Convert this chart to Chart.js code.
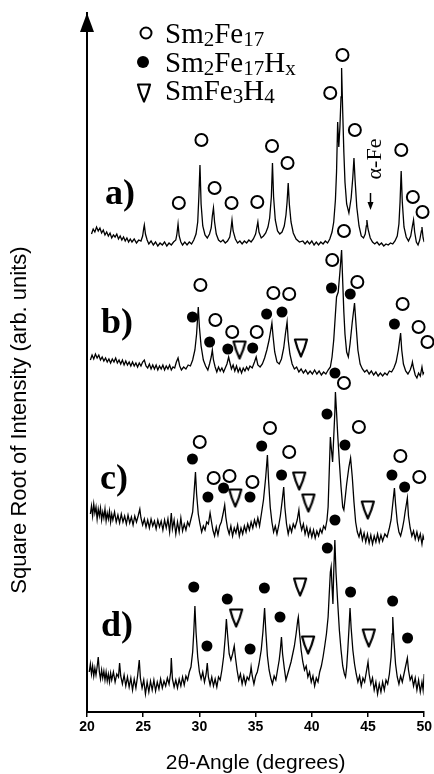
<!DOCTYPE html>
<html>
<head>
<meta charset="utf-8">
<script src="https://cdn.jsdelivr.net/npm/chart.js@4.4.1/dist/chart.umd.min.js"></script>
<style>
  html, body { margin: 0; padding: 0; background: #fff; }
  canvas { display: block; }
</style>
</head>
<body>
<canvas id="xrd" width="434" height="774"></canvas>
<script>
// tick labels on the 2-theta axis
var angleTicks = [20, 25, 30, 35, 40, 45, 50];

// traces as [2theta, sqrt intensity] pairs, each one offset upward
var patternA = [
  [20.4,478],[20.55,483],[20.7,480],[20.85,485],[21.0,481],[21.15,484],[21.3,479],[21.45,482],[21.6,477],[21.75,480],
  [21.9,476],[22.05,479],[22.2,474],[22.35,477],[22.5,475],[22.65,478],[22.8,473],[22.95,476],[23.1,472],[23.25,475],
  [23.4,471],[23.55,474],[23.7,470],[23.85,473],[24.0,470],[24.2,473],[24.4,469],[24.6,472],[24.8,471],[24.95,476],
  [25.05,484],[25.1,487],[25.2,478],[25.35,472],[25.5,468],[25.7,471],[25.9,467],[26.1,470],[26.3,466],[26.5,469],
  [26.7,467],[26.9,470],[27.1,466],[27.3,469],[27.5,467],[27.7,470],[27.9,472],[28.0,478],[28.1,488],[28.2,476],
  [28.35,470],[28.5,467],[28.7,470],[28.9,467],[29.1,470],[29.3,468],[29.5,472],[29.7,478],[29.85,490],[29.95,515],
  [30.05,547],[30.15,508],[30.3,486],[30.5,477],[30.7,474],[30.9,478],[31.05,484],[31.15,496],[31.25,504],[31.35,490],
  [31.5,478],[31.7,472],[31.9,470],[32.1,472],[32.3,469],[32.5,471],[32.7,475],[32.8,482],[32.9,492],[33.0,481],
  [33.2,473],[33.4,469],[33.6,471],[33.8,468],[34.0,471],[34.2,469],[34.4,472],[34.6,470],[34.8,473],[35.0,478],
  [35.1,484],[35.2,490],[35.3,480],[35.5,474],[35.7,476],[35.9,479],[36.1,485],[36.25,494],[36.4,515],[36.5,549],
  [36.6,515],[36.75,492],[36.95,481],[37.15,478],[37.35,480],[37.55,486],[37.7,497],[37.8,510],[37.9,529],[38.0,508],
  [38.15,490],[38.35,479],[38.6,473],[38.9,470],[39.2,471],[39.4,468],[39.6,471],[39.8,468],[40.0,471],[40.2,467],
  [40.4,470],[40.6,467],[40.8,470],[41.0,468],[41.2,471],[41.4,469],[41.6,473],[41.8,480],[41.95,490],[42.1,512],
  [42.2,540],[42.3,590],[42.4,565],[42.5,585],[42.6,615],[42.65,644],[42.75,600],[42.85,560],[42.95,530],[43.1,508],
  [43.3,499],[43.5,514],[43.65,535],[43.75,554],[43.85,532],[44.0,505],[44.2,486],[44.4,476],[44.6,474],[44.75,478],
  [44.85,486],[44.9,492],[45.0,483],[45.2,474],[45.4,470],[45.6,468],[45.8,470],[46.0,467],[46.2,469],[46.4,466],
  [46.6,468],[46.8,467],[47.0,469],[47.2,468],[47.4,471],[47.6,476],[47.75,488],[47.85,510],[47.95,541],[48.05,510],
  [48.2,485],[48.4,475],[48.6,471],[48.8,476],[48.95,486],[49.05,492],[49.15,480],[49.3,470],[49.45,467],[49.6,472],
  [49.75,481],[49.8,485],[49.9,474],[50.0,470]
];

var patternB = [
  [20.3,352],[20.45,357],[20.6,353],[20.75,358],[20.9,354],[21.05,357],[21.2,352],[21.35,355],[21.5,351],[21.65,354],
  [21.8,350],[21.95,353],[22.1,349],[22.25,353],[22.4,350],[22.55,354],[22.7,349],[22.85,352],[23.0,348],[23.15,352],
  [23.3,347],[23.45,351],[23.6,347],[23.75,350],[23.9,346],[24.05,350],[24.2,346],[24.35,349],[24.5,345],[24.65,349],
  [24.8,346],[24.95,350],[25.1,352],[25.25,346],[25.4,344],[25.55,348],[25.7,343],[25.85,347],[26.0,343],[26.15,347],
  [26.3,342],[26.45,346],[26.6,343],[26.75,347],[26.9,342],[27.05,346],[27.2,343],[27.35,347],[27.5,342],[27.65,345],
  [27.8,344],[27.95,350],[28.1,354],[28.25,346],[28.4,342],[28.6,345],[28.8,343],[29.0,347],[29.2,346],[29.4,352],
  [29.6,362],[29.75,378],[29.9,405],[30.0,385],[30.15,366],[30.35,352],[30.55,346],[30.75,342],[30.9,348],[31.05,355],
  [31.15,362],[31.25,352],[31.4,345],[31.55,340],[31.7,345],[31.85,341],[32.0,344],[32.15,340],[32.3,344],[32.45,348],
  [32.6,355],[32.7,350],[32.85,343],[33.0,347],[33.15,341],[33.3,346],[33.45,340],[33.6,344],[33.75,339],[33.9,344],
  [34.05,341],[34.2,345],[34.35,342],[34.5,346],[34.7,344],[34.9,350],[35.05,355],[35.2,347],[35.4,345],[35.6,348],
  [35.8,354],[36.0,362],[36.2,372],[36.35,382],[36.45,389],[36.55,376],[36.7,360],[36.9,350],[37.1,348],[37.3,353],
  [37.5,364],[37.65,378],[37.8,390],[37.9,372],[38.05,358],[38.25,348],[38.45,343],[38.65,345],[38.85,340],[39.05,343],
  [39.25,339],[39.45,342],[39.65,338],[39.85,341],[40.05,338],[40.25,342],[40.45,338],[40.65,341],[40.85,337],[41.05,340],
  [41.25,338],[41.45,342],[41.65,345],[41.8,355],[41.95,372],[42.1,398],[42.2,415],[42.35,420],[42.5,440],[42.65,462],
  [42.75,430],[42.85,400],[42.95,378],[43.1,360],[43.25,355],[43.4,368],[43.6,390],[43.8,409],[43.95,385],[44.1,362],
  [44.3,348],[44.5,343],[44.7,340],[44.9,342],[45.1,338],[45.3,341],[45.5,337],[45.7,340],[45.9,336],[46.1,339],
  [46.3,336],[46.5,339],[46.7,337],[46.9,341],[47.1,340],[47.3,344],[47.5,350],[47.7,362],[47.9,379],[48.0,362],
  [48.15,348],[48.35,341],[48.55,338],[48.75,342],[48.9,347],[48.95,350],[49.05,344],[49.2,337],[49.35,334],[49.5,339],
  [49.65,336],[49.8,345],[49.9,338],[50.0,340]
];

var patternC = [
  [20.3,198],[20.4,206],[20.5,196],[20.6,208],[20.7,199],[20.8,205],[20.9,193],[21.0,203],[21.1,196],[21.2,204],
  [21.3,192],[21.4,200],[21.5,194],[21.6,203],[21.7,191],[21.8,199],[21.9,193],[22.0,201],[22.1,190],[22.2,198],
  [22.3,192],[22.45,200],[22.6,190],[22.75,197],[22.9,189],[23.05,198],[23.2,190],[23.35,196],[23.5,188],[23.65,197],
  [23.8,189],[23.95,195],[24.1,187],[24.25,196],[24.4,190],[24.55,196],[24.7,203],[24.8,194],[24.95,187],[25.1,193],
  [25.25,185],[25.4,192],[25.55,184],[25.7,193],[25.85,186],[26.0,191],[26.15,183],[26.3,192],[26.45,185],[26.6,191],
  [26.75,182],[26.9,192],[27.05,184],[27.2,193],[27.35,180],[27.5,199],[27.6,183],[27.75,192],[27.9,178],[28.05,190],
  [28.2,180],[28.35,194],[28.5,181],[28.65,188],[28.8,182],[28.95,190],[29.1,186],[29.25,193],[29.4,200],[29.5,215],
  [29.65,240],[29.75,218],[29.9,198],[30.05,188],[30.2,180],[30.35,186],[30.5,182],[30.65,190],[30.8,188],[30.95,199],
  [31.05,192],[31.2,182],[31.35,176],[31.5,185],[31.65,177],[31.8,186],[31.95,190],[32.1,198],[32.25,207],[32.35,195],
  [32.5,184],[32.65,178],[32.8,186],[32.95,176],[33.1,184],[33.25,179],[33.4,187],[33.55,176],[33.7,184],[33.85,178],
  [34.0,186],[34.15,180],[34.3,188],[34.45,182],[34.6,190],[34.75,184],[34.9,192],[35.05,186],[35.2,194],[35.35,186],
  [35.5,197],[35.7,212],[35.9,235],[36.05,257],[36.15,232],[36.3,205],[36.45,190],[36.6,180],[36.75,186],[36.9,178],
  [37.05,186],[37.2,196],[37.35,210],[37.5,225],[37.6,205],[37.75,188],[37.9,178],[38.05,186],[38.2,180],[38.35,188],
  [38.5,184],[38.7,192],[38.85,202],[38.95,190],[39.1,182],[39.25,188],[39.4,178],[39.55,185],[39.7,176],[39.85,183],
  [40.0,175],[40.15,182],[40.3,174],[40.45,181],[40.6,176],[40.75,183],[40.9,179],[41.05,186],[41.2,183],[41.35,192],
  [41.45,205],[41.55,240],[41.65,275],[41.75,262],[41.85,250],[41.95,275],[42.05,300],[42.1,320],[42.2,300],[42.3,278],
  [42.45,250],[42.6,225],[42.75,205],[42.85,202],[42.95,212],[43.1,228],[43.3,245],[43.45,254],[43.6,235],[43.75,210],
  [43.9,190],[44.05,180],[44.2,175],[44.35,182],[44.5,172],[44.65,179],[44.8,170],[44.95,178],[45.1,169],[45.25,177],
  [45.4,168],[45.55,176],[45.7,170],[45.85,178],[46.0,170],[46.15,177],[46.3,171],[46.5,178],[46.7,175],[46.9,184],
  [47.05,192],[47.2,208],[47.35,224],[47.45,208],[47.6,190],[47.75,180],[47.9,176],[48.05,183],[48.2,192],[48.3,200],
  [48.4,207],[48.5,214],[48.6,196],[48.75,184],[48.9,176],[49.05,181],[49.2,173],[49.35,180],[49.5,172],[49.65,178],
  [49.8,168],[49.9,176],[50.0,172]
];

var patternD = [
  [20.2,40],[20.3,48],[20.4,38],[20.5,46],[20.6,36],[20.7,44],[20.8,37],[20.9,45],[21.0,55],[21.1,40],
  [21.2,33],[21.3,42],[21.4,34],[21.5,41],[21.6,32],[21.7,40],[21.8,31],[21.9,38],[22.0,30],[22.1,39],
  [22.2,32],[22.35,40],[22.5,30],[22.65,38],[22.8,35],[22.9,49],[23.0,36],[23.15,28],[23.3,37],[23.45,26],
  [23.6,35],[23.75,25],[23.9,34],[24.05,22],[24.2,33],[24.35,24],[24.5,36],[24.65,52],[24.75,34],[24.9,24],
  [25.05,32],[25.2,18],[25.35,30],[25.5,20],[25.65,31],[25.8,22],[25.95,32],[26.1,21],[26.25,30],[26.4,23],
  [26.55,33],[26.7,24],[26.85,31],[27.0,26],[27.15,34],[27.3,28],[27.45,40],[27.5,54],[27.6,33],[27.75,25],
  [27.9,32],[28.05,24],[28.2,33],[28.35,26],[28.5,35],[28.65,27],[28.8,36],[28.95,32],[29.1,40],[29.25,45],
  [29.4,60],[29.5,80],[29.6,106],[29.7,80],[29.85,55],[30.0,40],[30.15,33],[30.3,40],[30.45,30],[30.6,38],
  [30.7,49],[30.8,35],[30.95,27],[31.1,35],[31.25,26],[31.4,33],[31.55,25],[31.7,35],[31.85,32],[32.0,42],
  [32.15,55],[32.3,75],[32.4,93],[32.5,78],[32.65,58],[32.8,52],[32.95,58],[33.1,66],[33.2,55],[33.35,42],
  [33.5,32],[33.65,38],[33.8,28],[33.95,36],[34.1,28],[34.25,35],[34.4,32],[34.55,40],[34.6,45],[34.7,36],
  [34.85,28],[35.0,36],[35.15,40],[35.3,48],[35.5,62],[35.65,80],[35.8,104],[35.9,82],[36.05,56],[36.2,42],
  [36.35,34],[36.5,28],[36.65,36],[36.8,32],[36.95,42],[37.1,52],[37.2,62],[37.3,75],[37.4,58],[37.55,44],
  [37.7,32],[37.85,38],[38.0,44],[38.15,50],[38.3,58],[38.45,66],[38.6,78],[38.75,92],[38.8,95],[38.9,80],
  [39.05,62],[39.2,50],[39.35,42],[39.5,46],[39.65,35],[39.8,40],[39.95,30],[40.1,36],[40.25,26],[40.4,34],
  [40.55,30],[40.7,40],[40.85,46],[41.0,55],[41.15,66],[41.3,78],[41.45,95],[41.55,118],[41.65,140],[41.72,145],
  [41.8,125],[41.88,108],[41.95,140],[42.05,172],[42.15,140],[42.3,110],[42.45,82],[42.6,62],[42.75,46],[42.9,38],
  [43.0,35],[43.1,45],[43.2,62],[43.3,82],[43.4,104],[43.5,84],[43.65,62],[43.8,48],[43.95,38],[44.1,30],
  [44.25,36],[44.4,26],[44.55,34],[44.7,30],[44.85,40],[45.0,50],[45.1,38],[45.25,28],[45.4,34],[45.55,22],
  [45.7,30],[45.85,18],[46.0,28],[46.15,20],[46.3,30],[46.45,22],[46.6,32],[46.75,28],[46.9,38],[47.05,55],
  [47.15,78],[47.2,95],[47.3,72],[47.45,48],[47.6,35],[47.75,28],[47.9,36],[48.05,30],[48.2,38],[48.35,46],
  [48.5,54],[48.6,42],[48.75,32],[48.9,36],[49.05,26],[49.2,34],[49.35,22],[49.5,32],[49.65,20],[49.8,30],
  [49.9,22],[50.0,38]
];

// phase markers: open = Sm2Fe17, filled = Sm2Fe17Hx, triangle = SmFe3H4
var openCircles = [
  [28.17,509],[30.18,572],[31.35,524],[32.86,509],[35.15,510],[36.46,566],[37.84,549],[41.64,619],[42.73,657],
  [43.83,582],[47.96,562],[48.99,515],[49.85,500],
  [42.86,481],[30.09,427],[31.42,392],[32.92,380],[35.10,380],[36.58,419],[37.99,418],[41.82,452],[44.05,430],
  [48.08,408],[49.50,385],[50.29,370],
  [42.86,329],[30.03,270],[31.27,234],[32.68,236],[34.72,230],[36.28,284],[37.99,260],[44.19,285],[47.88,256],[49.56,235]
];

var filledDots = [
  [29.38,395],[30.91,370],[32.53,363],[34.74,364],[35.98,398],[37.35,400],[41.75,424],[43.42,418],[42.06,339],[47.35,388],
  [29.38,253],[30.76,215],[32.15,224],[34.50,215],[35.54,266],[37.31,237],[41.35,298],[42.95,267],[42.06,192],[47.13,237],[48.26,225],
  [29.50,125],[30.67,66],[32.48,113],[34.51,63],[35.78,124],[37.17,95],[41.38,164],[43.45,120],[47.19,111],[48.52,74]
];

var triangles = [
  [33.57,362],[39.03,364],
  [33.19,214],[38.88,231],[39.70,209],[44.98,202],
  [33.27,94],[38.96,125],[39.67,67],[45.07,74]
];

var legendRows = [
  [["Sm", 0], ["2", 1], ["Fe", 0], ["17", 1]],
  [["Sm", 0], ["2", 1], ["Fe", 0], ["17", 1], ["H", 0], ["x", 1]],
  [["Sm", 0], ["Fe", 0], ["3", 1], ["H", 0], ["4", 1]]
];
var traceLabels = ["a)", "b)", "c)", "d)"];

function toPoints(arr) {
  return arr.map(function (p) { return { x: p[0], y: p[1] }; });
}

// the open "V" triangle used for SmFe3H4
function makeTriangle() {
  var c = document.createElement("canvas");
  c.width = 16;
  c.height = 22;
  var g = c.getContext("2d");
  g.lineWidth = 2.2;
  g.lineJoin = "round";
  g.strokeStyle = "#000";
  g.fillStyle = "#fff";
  g.beginPath();
  g.moveTo(2, 2.5);
  g.lineTo(14, 2.5);
  g.quadraticCurveTo(12, 11, 8, 19.5);
  g.quadraticCurveTo(4, 11, 2, 2.5);
  g.closePath();
  g.fill();
  g.stroke();
  return c;
}
var triangleImg = makeTriangle();

function drawChem(ctx, parts, x, y) {
  parts.forEach(function (p) {
    if (p[1]) {
      ctx.font = "21px 'Liberation Serif'";
      ctx.fillText(p[0], x, y + 3);
    } else {
      ctx.font = "29px 'Liberation Serif'";
      ctx.fillText(p[0], x, y);
    }
    x += ctx.measureText(p[0]).width;
  });
}

// annotations: axis arrow, legend, trace labels, alpha-Fe, y title
var decorations = {
  id: "decorations",
  afterDraw: function (chart) {
    var ctx = chart.ctx;
    var left = chart.chartArea.left;
    ctx.save();
    ctx.fillStyle = "#000";
    ctx.strokeStyle = "#000";

    // arrow on top of the intensity axis
    ctx.beginPath();
    ctx.moveTo(left, 13);
    ctx.lineTo(left - 7, 32);
    ctx.lineTo(left + 7, 32);
    ctx.closePath();
    ctx.fill();

    // legend
    ctx.lineWidth = 2;
    ctx.beginPath();
    ctx.arc(146, 33, 5.5, 0, Math.PI * 2);
    ctx.stroke();
    ctx.beginPath();
    ctx.arc(143, 62, 6, 0, Math.PI * 2);
    ctx.fill();
    ctx.drawImage(triangleImg, 144 - 8, 93 - 11);
    ctx.textBaseline = "alphabetic";
    ctx.textAlign = "left";
    drawChem(ctx, legendRows[0], 165, 43);
    drawChem(ctx, legendRows[1], 165, 72);
    drawChem(ctx, legendRows[2], 165, 100);

    // a) b) c) d)
    ctx.font = "bold 36px 'Liberation Serif'";
    var labelPos = [[105, 204], [101, 333], [100, 489], [101, 636]];
    traceLabels.forEach(function (t, i) {
      ctx.fillText(t, labelPos[i][0], labelPos[i][1]);
    });

    // alpha-Fe marker
    ctx.save();
    ctx.translate(375, 159);
    ctx.rotate(-Math.PI / 2);
    ctx.font = "22px 'Liberation Serif'";
    ctx.textAlign = "center";
    ctx.textBaseline = "middle";
    ctx.fillText("\u03b1-Fe", 0, 0);
    ctx.restore();
    ctx.lineWidth = 1.5;
    ctx.beginPath();
    ctx.moveTo(370.5, 193);
    ctx.lineTo(370.5, 205);
    ctx.stroke();
    ctx.beginPath();
    ctx.moveTo(370.5, 210);
    ctx.lineTo(367.5, 202);
    ctx.lineTo(373.5, 202);
    ctx.closePath();
    ctx.fill();

    // y axis title
    ctx.save();
    ctx.translate(20, 420);
    ctx.rotate(-Math.PI / 2);
    ctx.font = "22px 'Liberation Sans'";
    ctx.textAlign = "center";
    ctx.textBaseline = "middle";
    ctx.fillText("Square Root of Intensity (arb. units)", 0, 0);
    ctx.restore();

    ctx.restore();
  }
};

function traceDataset(points) {
  return {
    data: toPoints(points),
    showLine: true,
    borderColor: "#000",
    borderWidth: 1.3,
    pointRadius: 0,
    tension: 0,
    fill: false
  };
}

var chart = new Chart(document.getElementById("xrd"), {
  type: "scatter",
  data: {
    datasets: [
      {
        data: toPoints(openCircles),
        pointStyle: "circle",
        pointRadius: 6,
        pointBorderWidth: 2,
        pointBorderColor: "#000",
        pointBackgroundColor: "#fff",
        clip: false
      },
      {
        data: toPoints(filledDots),
        pointStyle: "circle",
        pointRadius: 5.5,
        pointBorderWidth: 0,
        pointBackgroundColor: "#000",
        clip: false
      },
      {
        data: toPoints(triangles),
        pointStyle: triangleImg,
        pointRadius: 6,
        clip: false
      },
      traceDataset(patternA),
      traceDataset(patternB),
      traceDataset(patternC),
      traceDataset(patternD)
    ]
  },
  options: {
    responsive: false,
    animation: false,
    devicePixelRatio: 1,
    events: [],
    layout: { padding: { left: 0, right: 8, top: 13, bottom: 0 } },
    plugins: {
      legend: { display: false },
      tooltip: { enabled: false }
    },
    scales: {
      x: {
        type: "linear",
        min: 20,
        max: 50,
        afterBuildTicks: function (scale) {
          scale.ticks = angleTicks.map(function (v) { return { value: v }; });
        },
        afterFit: function (scale) {
          scale.height = 62;
        },
        ticks: {
          color: "#000",
          padding: 2,
          maxRotation: 0,
          font: { family: "Liberation Sans", size: 14, weight: "bold" }
        },
        grid: {
          display: true,
          drawOnChartArea: false,
          drawTicks: true,
          tickLength: 5,
          color: "#000",
          lineWidth: 1.5
        },
        border: { display: true, color: "#000", width: 2 },
        title: {
          display: true,
          text: "2\u03b8-Angle (degrees)",
          color: "#000",
          padding: 0,
          font: { family: "Liberation Sans", size: 21, lineHeight: 1 }
        }
      },
      y: {
        type: "linear",
        min: 0,
        max: 699,
        afterFit: function (scale) {
          scale.width = 87;
        },
        ticks: { display: false },
        grid: { display: false },
        border: { display: true, color: "#000", width: 2 }
      }
    }
  },
  plugins: [decorations]
});
</script>
</body>
</html>
